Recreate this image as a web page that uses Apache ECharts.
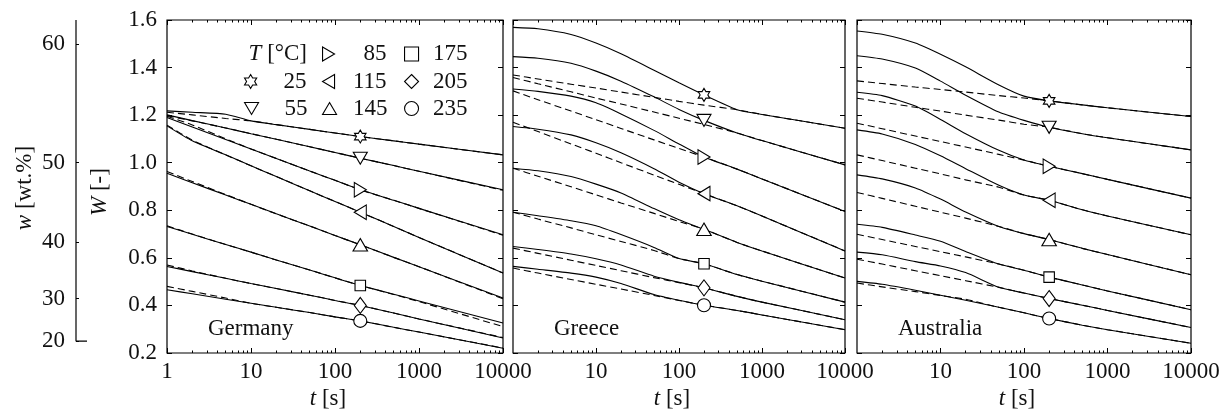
<!DOCTYPE html>
<html>
<head>
<meta charset="utf-8">
<script src="https://cdn.jsdelivr.net/npm/echarts@6/dist/echarts.min.js"></script>
<style>
  html, body { margin: 0; padding: 0; background: #fff; }
  #chart { width: 1226px; height: 416px; }
</style>
</head>
<body>
<div id="chart"></div>
<script>
// Sampling times t [s] shared by every curve
const T_SAMPLES = [1, 2, 5, 10, 20, 50, 100, 200, 500, 1000, 10000];
// Time at which the temperature markers sit
const MARKER_T = 200;
// Drying temperatures T [°C]
const TEMPERATURES = ['25', '55', '85', '115', '145', '175', '205', '235'];
// Mass fraction ticks w [wt.%] of the auxiliary axis
const W_PERCENT_TICKS = [60, 50, 40, 30, 20];
// Minor ticks of the logarithmic time axis
const T_MINOR_TICKS = [2, 3, 4, 5, 6, 7, 8, 9, 20, 30, 40, 50, 60, 70, 80, 90,
  200, 300, 400, 500, 600, 700, 800, 900, 2000, 3000, 4000, 5000, 6000, 7000, 8000, 9000];

// Moisture ratio W [-], one row per temperature (25 ... 235 °C)
const GERMANY_SOLID = [
  [1.218, 1.212, 1.204, 1.176, 1.160, 1.140, 1.125, 1.110, 1.092, 1.078, 1.033],
  [1.201, 1.177, 1.146, 1.122, 1.099, 1.067, 1.043, 1.019, 0.988, 0.964, 0.886],
  [1.190, 1.150, 1.098, 1.058, 1.018, 0.965, 0.926, 0.886, 0.842, 0.808, 0.697],
  [1.155, 1.092, 1.033, 0.987, 0.942, 0.882, 0.837, 0.792, 0.732, 0.686, 0.536],
  [0.956, 0.916, 0.864, 0.825, 0.785, 0.734, 0.694, 0.655, 0.602, 0.563, 0.431],
  [0.732, 0.699, 0.656, 0.624, 0.591, 0.549, 0.516, 0.484, 0.447, 0.419, 0.326],
  [0.564, 0.542, 0.514, 0.492, 0.471, 0.443, 0.421, 0.400, 0.368, 0.343, 0.263],
  [0.466, 0.449, 0.426, 0.409, 0.392, 0.370, 0.352, 0.335, 0.308, 0.288, 0.220]
];
const GERMANY_DASHED = [
  [1.212, 1.201, 1.186, 1.176, 1.160, 1.140, 1.125, 1.110, 1.092, 1.078, 1.033],
  [1.198, 1.176, 1.146, 1.122, 1.099, 1.067, 1.043, 1.019, 0.988, 0.964, 0.884],
  [1.195, 1.159, 1.100, 1.058, 1.018, 0.965, 0.926, 0.886, 0.842, 0.808, 0.695],
  [1.158, 1.095, 1.033, 0.987, 0.942, 0.882, 0.837, 0.792, 0.732, 0.686, 0.536],
  [0.963, 0.921, 0.866, 0.825, 0.785, 0.734, 0.694, 0.655, 0.602, 0.563, 0.428],
  [0.735, 0.700, 0.656, 0.624, 0.591, 0.549, 0.516, 0.484, 0.446, 0.416, 0.311],
  [0.570, 0.545, 0.514, 0.492, 0.471, 0.443, 0.421, 0.400, 0.368, 0.343, 0.265],
  [0.480, 0.459, 0.431, 0.409, 0.392, 0.370, 0.352, 0.335, 0.308, 0.288, 0.221]
];
const GREECE_SOLID = [
  [1.569, 1.563, 1.539, 1.503, 1.458, 1.389, 1.336, 1.285, 1.223, 1.203, 1.145],
  [1.446, 1.439, 1.418, 1.385, 1.343, 1.277, 1.224, 1.178, 1.125, 1.093, 0.991],
  [1.310, 1.300, 1.280, 1.252, 1.205, 1.136, 1.079, 1.024, 0.973, 0.932, 0.795],
  [1.152, 1.141, 1.117, 1.084, 1.042, 0.975, 0.918, 0.870, 0.819, 0.776, 0.629],
  [0.977, 0.966, 0.942, 0.910, 0.873, 0.807, 0.760, 0.720, 0.665, 0.629, 0.515],
  [0.792, 0.777, 0.756, 0.735, 0.698, 0.644, 0.597, 0.575, 0.530, 0.502, 0.414],
  [0.648, 0.635, 0.616, 0.596, 0.570, 0.523, 0.497, 0.474, 0.438, 0.414, 0.340],
  [0.564, 0.552, 0.536, 0.519, 0.492, 0.446, 0.422, 0.401, 0.379, 0.360, 0.298]
];
const GREECE_DASHED = [
  [1.369, 1.352, 1.330, 1.314, 1.297, 1.275, 1.258, 1.242, 1.223, 1.203, 1.145],
  [1.358, 1.332, 1.298, 1.272, 1.247, 1.213, 1.187, 1.161, 1.125, 1.093, 0.991],
  [1.302, 1.265, 1.217, 1.181, 1.144, 1.096, 1.060, 1.024, 0.973, 0.932, 0.795],
  [1.170, 1.131, 1.079, 1.040, 1.000, 0.948, 0.909, 0.870, 0.819, 0.776, 0.629],
  [0.977, 0.943, 0.899, 0.865, 0.831, 0.787, 0.753, 0.720, 0.665, 0.629, 0.515],
  [0.792, 0.763, 0.726, 0.697, 0.669, 0.631, 0.597, 0.575, 0.530, 0.502, 0.414],
  [0.641, 0.619, 0.590, 0.568, 0.546, 0.517, 0.496, 0.474, 0.438, 0.414, 0.340],
  [0.557, 0.536, 0.509, 0.489, 0.469, 0.442, 0.421, 0.401, 0.379, 0.360, 0.298]
];
const AUSTRALIA_SOLID = [
  [1.554, 1.540, 1.503, 1.456, 1.403, 1.327, 1.280, 1.260, 1.243, 1.231, 1.194],
  [1.450, 1.436, 1.398, 1.343, 1.284, 1.213, 1.178, 1.149, 1.122, 1.105, 1.054],
  [1.296, 1.282, 1.238, 1.182, 1.122, 1.052, 1.011, 0.985, 0.954, 0.930, 0.851],
  [1.138, 1.121, 1.077, 1.029, 0.975, 0.905, 0.864, 0.842, 0.802, 0.776, 0.697],
  [0.949, 0.932, 0.894, 0.847, 0.793, 0.732, 0.702, 0.677, 0.640, 0.614, 0.529],
  [0.741, 0.728, 0.696, 0.670, 0.627, 0.574, 0.548, 0.519, 0.486, 0.461, 0.382],
  [0.624, 0.613, 0.584, 0.566, 0.538, 0.476, 0.452, 0.429, 0.401, 0.379, 0.307],
  [0.501, 0.489, 0.464, 0.443, 0.422, 0.392, 0.369, 0.345, 0.317, 0.298, 0.241]
];
const AUSTRALIA_DASHED = [
  [1.344, 1.333, 1.318, 1.308, 1.297, 1.282, 1.272, 1.260, 1.243, 1.231, 1.194],
  [1.271, 1.255, 1.233, 1.217, 1.200, 1.179, 1.162, 1.149, 1.122, 1.105, 1.054],
  [1.166, 1.143, 1.112, 1.089, 1.066, 1.035, 1.011, 0.985, 0.954, 0.930, 0.851],
  [1.033, 1.009, 0.977, 0.953, 0.928, 0.897, 0.864, 0.842, 0.802, 0.776, 0.697],
  [0.875, 0.850, 0.817, 0.792, 0.767, 0.732, 0.702, 0.677, 0.640, 0.614, 0.529],
  [0.699, 0.677, 0.648, 0.626, 0.604, 0.574, 0.548, 0.519, 0.486, 0.461, 0.382],
  [0.594, 0.574, 0.546, 0.525, 0.504, 0.476, 0.452, 0.429, 0.401, 0.379, 0.307],
  [0.494, 0.478, 0.458, 0.442, 0.426, 0.392, 0.369, 0.345, 0.317, 0.298, 0.241]
];

const FONT = 'Liberation Serif';
const INK = '#111';
const FS = 23;

// Marker shapes per temperature
const HEXAGRAM = 'path://M10,0L12.887,5L18.66,5L15.774,10L18.66,15L12.887,15L10,20L7.113,15L1.34,15L4.226,10L1.34,5L7.113,5Z';
const SYMBOLS = [
  HEXAGRAM,
  'path://M0,0L14,0L7,12Z',
  'path://M0,0L12,7L0,14Z',
  'path://M12,0L0,7L12,14Z',
  'path://M7,0L14,12L0,12Z',
  'rect',
  'diamond',
  'circle'
];
const SYMBOL_SIZES = [[11.5, 13], [14, 12], [12, 14.5], [12, 14.5], [14.5, 12.5], 10.5, [12, 16], 13];

const PANELS = [
  { name: 'Germany', left: 167, width: 336, solid: GERMANY_SOLID, dashed: GERMANY_DASHED },
  { name: 'Greece', left: 513, width: 332, solid: GREECE_SOLID, dashed: GREECE_DASHED },
  { name: 'Australia', left: 857, width: 334, solid: AUSTRALIA_SOLID, dashed: AUSTRALIA_DASHED }
];
const PLOT_TOP = 20;
const PLOT_HEIGHT = 333;

const richItalic = { i: { fontStyle: 'italic', fontFamily: FONT, fontSize: FS, color: INK } };
const textBase = { fontFamily: FONT, fontSize: FS, color: INK };

const grids = [];
const xAxes = [];
const yAxes = [];
const series = [];

PANELS.forEach((p, i) => {
  grids.push({
    left: p.left, top: PLOT_TOP, width: p.width, height: PLOT_HEIGHT,
    show: true, borderColor: '#000', borderWidth: 1.2, backgroundColor: 'transparent',
    containLabel: false, outerBoundsMode: 'none'
  });
  const logBase = { gridIndex: i, type: 'log', logBase: 10, min: 1, max: 10000,
    axisLine: { show: false, onZero: false }, splitLine: { show: false }, splitArea: { show: false } };
  // bottom: major ticks + labels + name
  xAxes.push(Object.assign({}, logBase, {
    position: 'bottom',
    axisTick: { show: true, inside: true, length: 5, lineStyle: { color: '#000', width: 1 } },
    axisLabel: Object.assign({ show: true, margin: 7, showMinLabel: i === 0,
      formatter: v => String(Math.round(v)) }, textBase),
    name: '{i|t} [s]', nameLocation: 'middle', nameGap: 33,
    nameTextStyle: Object.assign({ rich: richItalic, padding: [0, 14, 0, 0] }, textBase)
  }));
  // bottom: minor ticks
  xAxes.push(Object.assign({}, logBase, {
    position: 'bottom',
    axisTick: { show: true, inside: true, length: 2.5, customValues: T_MINOR_TICKS, lineStyle: { color: '#000', width: 1 } },
    axisLabel: { show: false }
  }));
  // top: major ticks
  xAxes.push(Object.assign({}, logBase, {
    position: 'top',
    axisTick: { show: true, inside: true, length: 5, lineStyle: { color: '#000', width: 1 } },
    axisLabel: { show: false }
  }));
  // top: minor ticks
  xAxes.push(Object.assign({}, logBase, {
    position: 'top',
    axisTick: { show: true, inside: true, length: 2.5, customValues: T_MINOR_TICKS, lineStyle: { color: '#000', width: 1 } },
    axisLabel: { show: false }
  }));
  const valBase = { gridIndex: i, type: 'value', min: 0.2, max: 1.6, interval: 0.2,
    axisLine: { show: false, onZero: false }, splitLine: { show: false },
    axisTick: { show: true, inside: true, length: 5, lineStyle: { color: '#000', width: 1 } } };
  yAxes.push(Object.assign({}, valBase, {
    position: 'left',
    axisLabel: Object.assign({ show: i === 0, margin: 10, formatter: v => v.toFixed(1) }, textBase),
    name: i === 0 ? '{i|W} [-]' : '', nameLocation: 'middle', nameGap: 56, nameRotate: 90,
    nameTextStyle: Object.assign({ rich: richItalic, padding: [0, 11, 0, 0] }, textBase)
  }));
  yAxes.push(Object.assign({}, valBase, { position: 'right', axisLabel: { show: false } }));

  const markerIdx = T_SAMPLES.indexOf(MARKER_T);
  TEMPERATURES.forEach((T, k) => {
    series.push({
      type: 'line', name: p.name + ' ' + T + ' model', xAxisIndex: 4 * i, yAxisIndex: 2 * i,
      data: T_SAMPLES.map((t, j) => [t, p.solid[k][j]]),
      symbol: 'none', smooth: 0.2, silent: true, z: 2,
      lineStyle: { color: '#000', width: 1.1, type: 'solid' }
    });
    series.push({
      type: 'line', name: p.name + ' ' + T + ' fit', xAxisIndex: 4 * i, yAxisIndex: 2 * i,
      data: T_SAMPLES.map((t, j) => [t, p.dashed[k][j]]),
      symbol: 'none', smooth: 0.2, silent: true, z: 3,
      lineStyle: { color: '#000', width: 1.1, type: [7, 4] }
    });
    series.push({
      type: 'scatter', name: T, xAxisIndex: 4 * i, yAxisIndex: 2 * i,
      data: [[MARKER_T, p.solid[k][markerIdx]]],
      symbol: SYMBOLS[k], symbolSize: SYMBOL_SIZES[k], symbolKeepAspect: false, silent: true, z: 5,
      itemStyle: { color: '#fff', borderColor: '#000', borderWidth: 1.1, opacity: 1 }
    });
  });
});

// Auxiliary mass fraction axis w [wt.%] on the far left
const W_AUX = W_PERCENT_TICKS.map(w => w / (100 - w));
grids.push({ left: 76, top: PLOT_TOP, width: 11, height: PLOT_HEIGHT, show: false, containLabel: false, outerBoundsMode: 'none' });
xAxes.push({ gridIndex: 3, type: 'value', min: 0, max: 1, show: false });
yAxes.push({
  gridIndex: 3, type: 'value', min: 0.2, max: 1.6, position: 'left',
  axisLine: { show: false, onZero: false }, splitLine: { show: false },
  axisTick: { show: true, inside: true, length: 3, customValues: W_AUX, lineStyle: { color: '#000', width: 1 } },
  axisLabel: Object.assign({ show: true, margin: 11, customValues: W_AUX,
    formatter: v => String(Math.round(100 * v / (1 + v))) }, textBase),
  name: '{i|w} [wt.%]', nameLocation: 'middle', nameGap: 40, nameRotate: 90,
  nameTextStyle: Object.assign({ rich: richItalic, padding: [0, 3, 0, 0] }, textBase)
});
series.push({
  type: 'line', name: 'w axis', xAxisIndex: 12, yAxisIndex: 6, silent: true,
  data: [[0, 1.6], [0, W_AUX[W_AUX.length - 1]], [1, W_AUX[W_AUX.length - 1]]],
  symbol: 'none', lineStyle: { color: '#000', width: 1.2 }
});

// Legend: three columns, "T [°C]" heading above the first one
const LEGEND_ROWS = [42.5, 70, 97];
const LEGEND_COLS = [
  { left: 244, width: 44, items: [null, '25', '55'] },
  { left: 322, width: 46, items: ['85', '115', '145'] },
  { left: 404, width: 44, items: ['175', '205', '235'] }
];
const legends = [];
LEGEND_COLS.forEach(col => {
  col.items.forEach((name, r) => {
    if (!name) return;
    const k = TEMPERATURES.indexOf(name);
    legends.push({
      data: [{ name: name, icon: SYMBOLS[k] }],
      left: col.left, top: LEGEND_ROWS[r], padding: 0,
      itemWidth: 14, itemHeight: 14, itemGap: 0, selectedMode: false,
      itemStyle: { color: '#fff', borderColor: '#000', borderWidth: 1.1 },
      formatter: n => '{n|' + n + '}',
      textStyle: Object.assign({ rich: { n: Object.assign({ width: col.width, align: 'right' }, textBase) } }, textBase)
    });
  });
});

const graphics = [
  {
    type: 'text', x: 307, y: 54, silent: true,
    style: { text: '{i|T} [°C]', rich: richItalic, fontFamily: FONT, fontSize: FS, fill: INK,
      align: 'right', verticalAlign: 'middle' }
  }
].concat(PANELS.map(p => ({
  type: 'text', x: p.left + 41, y: 329, silent: true,
  style: { text: p.name, fontFamily: FONT, fontSize: FS, fill: INK, align: 'left', verticalAlign: 'middle' }
})));

const chart = echarts.init(document.getElementById('chart'), null, { renderer: 'canvas' });
chart.setOption({
  animation: false,
  backgroundColor: '#fff',
  grid: grids,
  xAxis: xAxes,
  yAxis: yAxes,
  legend: legends,
  graphic: graphics,
  series: series
});
</script>
</body>
</html>
